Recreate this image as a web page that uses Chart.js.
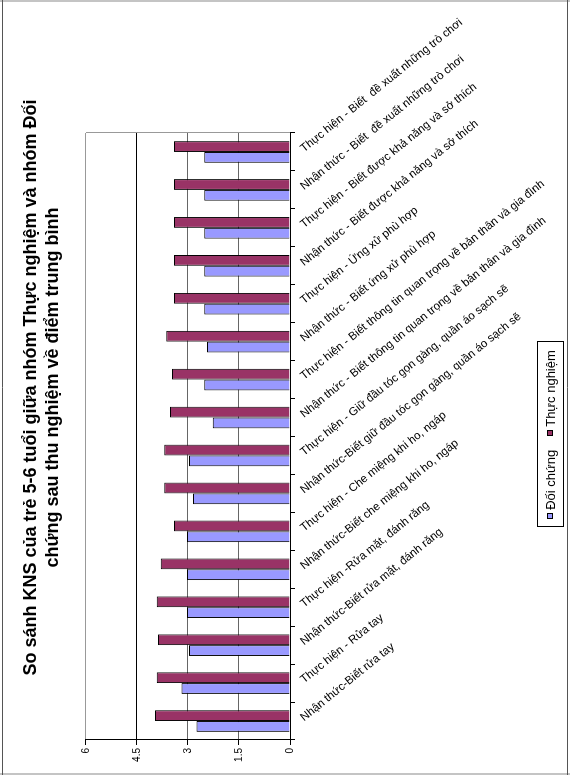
<!DOCTYPE html>
<html>
<head>
<meta charset="utf-8">
<script src="https://cdn.jsdelivr.net/npm/chart.js@4.4.1/dist/chart.umd.min.js"></script>
<style>
    body { margin: 0; background: #fff; }
    #khung { position: relative; width: 570px; height: 775px; overflow: hidden; background: #fff; }
    /* biểu đồ vẽ nằm ngang rồi xoay 90 độ */
    #BieuDoKNS { position: absolute; left: 0; top: 0; transform-origin: 0 0; transform: translate(0, 775px) rotate(-90deg); }
</style>
</head>
<body>
<div id="khung">
    <canvas id="BieuDoKNS" width="775" height="570"></canvas>
</div>
<script>
/*Dữ liệu*/
var danhMuc = [
    "Nhận thức-Biết rửa tay",
    "Thực hiện - Rửa tay",
    "Nhận thức-Biết rửa mặt, đánh răng",
    "Thực hiện -Rửa mặt, đánh răng",
    "Nhận thức-Biết che miệng khi ho, ngáp",
    "Thực hiện - Che miệng khi ho, ngáp",
    "Nhận thức-Biết giữ đầu tóc gọn gàng, quần áo sạch sẽ",
    "Thực hiện - Giữ đầu tóc gọn gàng, quần áo sạch sẽ",
    "Nhận thức - Biết thông tin quan trọng về bản thân và gia đình",
    "Thực hiện - Biết thông tin quan trọng về bản thân và gia đình",
    "Nhận thức - Biết ứng xử phù hợp",
    "Thực hiện - Ứng xử phù hợp",
    "Nhận thức - Biết được khả năng và sở thích",
    "Thực hiện - Biết được khả năng và sở thích",
    "Nhận thức - Biết  đề xuất những trò chơi",
    "Thực hiện - Biết  đề xuất những trò chơi"
];
var doiChung = [2.75, 3.19, 2.97, 3.03, 3.03, 3.03, 2.85, 2.97, 2.27, 2.52, 2.44, 2.52, 2.52, 2.52, 2.52, 2.52];
var thucNghiem = [3.97, 3.92, 3.88, 3.92, 3.80, 3.41, 3.70, 3.70, 3.53, 3.47, 3.64, 3.41, 3.41, 3.41, 3.41, 3.41];
var nhanTruc = ["0", "1.5", "3", "4.5", "6"];

var fontChu = "'Liberation Sans', Arial, sans-serif";

/*Nền, viền, nhãn danh mục và chú thích*/
var phanVe = {
    id: 'phanVe',
    beforeDraw: function (chart) {
        var ctx = chart.ctx;
        ctx.save();
        ctx.fillStyle = '#fff';
        ctx.fillRect(0, 0, chart.width, chart.height);
        ctx.restore();
    },
    afterDraw: function (chart) {
        var ctx = chart.ctx;
        var a = chart.chartArea;
        var x = chart.scales.x;
        ctx.save();

        // viền vùng vẽ bên phải
        ctx.strokeStyle = '#999';
        ctx.lineWidth = 1;
        ctx.beginPath();
        ctx.moveTo(a.right + 0.5, a.top);
        ctx.lineTo(a.right + 0.5, a.bottom);
        ctx.stroke();

        // nhãn danh mục xiên
        ctx.fillStyle = '#000';
        ctx.font = "11.5px " + fontChu;
        ctx.textAlign = 'left';
        ctx.textBaseline = 'middle';
        for (var i = 0; i < danhMuc.length; i++) {
            ctx.save();
            ctx.translate(x.getPixelForTick(i) + 2, a.bottom + 12);
            ctx.rotate(51 * Math.PI / 180);
            ctx.fillText(danhMuc[i], 0, 0);
            ctx.restore();
        }

        // chú thích
        var ds = chart.data.datasets;
        ctx.font = "13px " + fontChu;
        var rong = 0;
        for (var j = 0; j < ds.length; j++) {
            rong += 6 + 3 + ctx.measureText(ds[j].label).width;
        }
        rong += 14 * (ds.length - 1);
        var hopTrai = 248, hopRong = 185, hopTren = 537, hopCao = 26;
        ctx.strokeStyle = '#000';
        ctx.strokeRect(hopTrai + 0.5, hopTren + 0.5, hopRong, hopCao);
        var px = hopTrai + (hopRong - rong) / 2;
        var py = hopTren + hopCao / 2;
        for (var k = 0; k < ds.length; k++) {
            ctx.fillStyle = ds[k].backgroundColor;
            ctx.fillRect(Math.round(px), py - 3, 6, 6);
            ctx.strokeStyle = '#000';
            ctx.strokeRect(Math.round(px) + 0.5, py - 2.5, 5, 5);
            ctx.fillStyle = '#000';
            ctx.fillText(ds[k].label, px + 9, py + 1);
            px += 9 + ctx.measureText(ds[k].label).width + 14;
        }

        // viền ngoài
        ctx.fillStyle = '#c4c4c4';
        ctx.fillRect(0, 0, 2, chart.height);
        ctx.fillRect(chart.width - 2, 0, 2, chart.height);
        ctx.strokeStyle = '#555';
        ctx.beginPath();
        ctx.moveTo(0, 2.5); ctx.lineTo(chart.width, 2.5);
        ctx.moveTo(0, chart.height - 2.5); ctx.lineTo(chart.width, chart.height - 2.5);
        ctx.stroke();
        ctx.restore();
    }
};

var ctx = document.getElementById('BieuDoKNS').getContext('2d');

var grafico = new Chart(ctx, {
    type: 'bar',
    data: {
        labels: danhMuc,
        datasets: [{
            label: "Đối chứng",
            backgroundColor: '#9999ff',
            borderColor: '#000',
            borderWidth: 1,
            data: doiChung
        }, {
            label: "Thực nghiệm",
            backgroundColor: '#993366',
            borderColor: '#000',
            borderWidth: 1,
            data: thucNghiem
        }]
    },
    options: {
        responsive: false,
        animation: false,
        datasets: {
            bar: { categoryPercentage: 0.57, barPercentage: 1 }
        },
        layout: { padding: 0 },
        scales: {
            x: {
                type: 'category',
                ticks: { display: false },
                grid: { offset: true, drawOnChartArea: false, drawTicks: true, tickLength: 5, tickColor: '#000' },
                border: { color: '#000' },
                afterFit: function (s) { s.height = 280; }
            },
            y: {
                min: 0,
                max: 6,
                ticks: {
                    stepSize: 1.5,
                    color: '#000',
                    padding: 3,
                    font: { size: 10, family: fontChu },
                    callback: function (v, i) { return nhanTruc[i]; }
                },
                grid: {
                    tickLength: 5,
                    tickColor: '#000',
                    color: function (c) {
                        var v = c.tick ? c.tick.value : 0;
                        if (v === 4.5 || v === 0) return '#000';
                        if (v === 6) return '#999';
                        return '#666';
                    }
                },
                border: { color: '#000' },
                afterFit: function (s) { s.width = 35; }
            },
            y2: {
                position: 'right',
                display: true,
                ticks: { display: false },
                grid: { display: false },
                border: { display: false },
                afterFit: function (s) { s.width = 133; }
            }
        },
        plugins: {
            legend: { display: false },
            tooltip: { enabled: false },
            title: {
                display: true,
                text: ['So sánh KNS của trẻ 5-6 tuổi giữa nhóm Thực nghiệm và nhóm Đối', 'chứng sau thu nghiệm về điểm trung bình'],
                color: '#000',
                font: { size: 18, weight: 'bold', family: fontChu, lineHeight: 1.222 },
                padding: { top: 20, bottom: 22 }
            }
        }
    },
    plugins: [phanVe]
});
</script>
</body>
</html>
